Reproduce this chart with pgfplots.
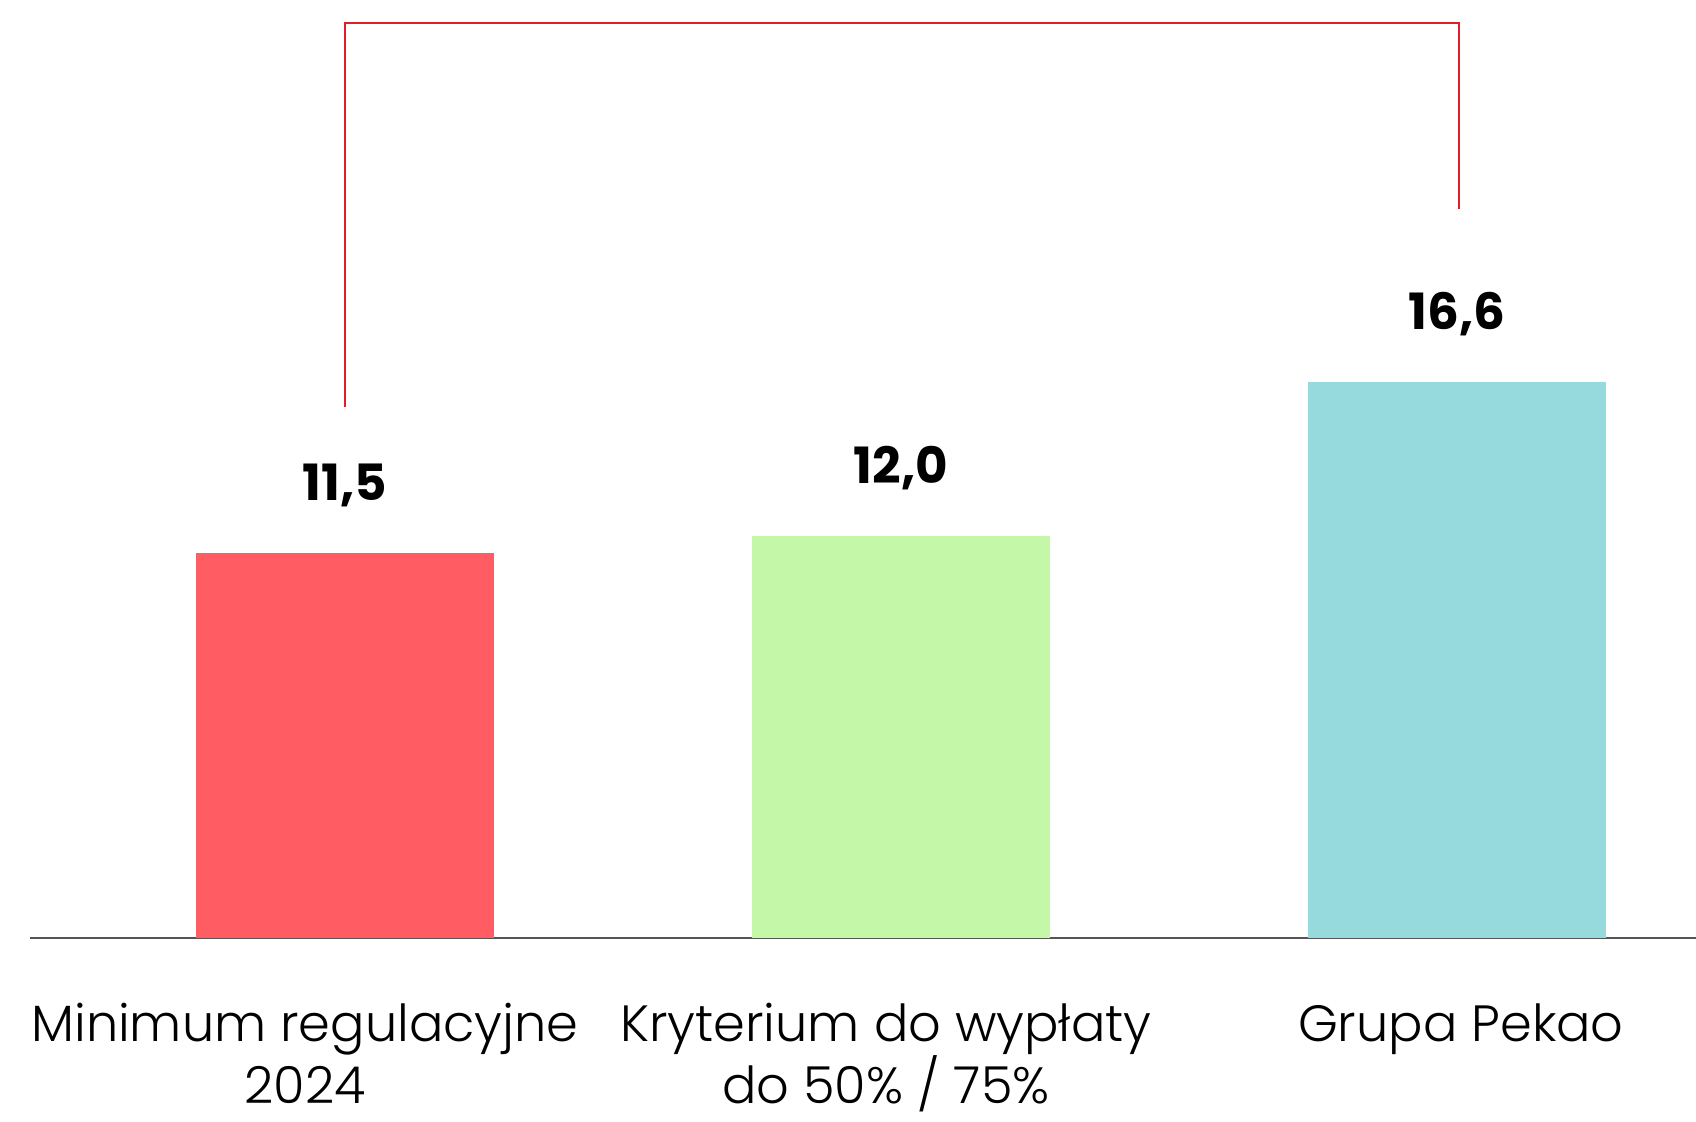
\documentclass[border=0pt]{standalone}
\usepackage{pgfplots}
\pgfplotsset{compat=1.18}
\usepackage{fontspec}
\setmainfont{Poppins}
\newfontfamily\lightfont{Poppins Light}
\definecolor{barred}{HTML}{FF5C64}
\definecolor{bargreen}{HTML}{C5F7A9}
\definecolor{barcyan}{HTML}{96DADE}
\definecolor{brred}{HTML}{E01E2A}
\definecolor{axgray}{HTML}{555555}
\pgfplotsset{
  valbar/.style={ybar, bar width=149bp, bar shift=0pt, draw=none,
    nodes near coords={\pgfmathprintnumber[fixed,fixed zerofill,precision=1,use comma,assume math mode=true]{\pgfplotspointmeta}},
    every node near coord/.append style={font=\bfseries\fontsize{25bp}{30bp}\selectfont, text=black, anchor=base, yshift=26bp, inner sep=0pt}},
}
\begin{document}
\begin{tikzpicture}
\begin{axis}[
  scale only axis, width=833bp, height=469bp,
  xmin=-0.5665, xmax=2.4299, ymin=0, ymax=28,
  axis x line=bottom, axis y line=none,
  x axis line style={-, draw=axgray, line width=1.2bp},
  xtick={-0.072,0.973,2.007},
  xticklabels={{Minimum regulacyjne\\2024},{Kryterium do wypłaty\\do 50\% / 75\%},{Grupa Pekao}},
  xticklabel style={align=center, font=\lightfont\fontsize{25.5bp}{31bp}\selectfont, anchor=north, inner sep=0pt, text depth=0pt, yshift=-32.5bp, text=black},
  major tick length=0pt, ytick=\empty,
  clip=false,
]
\addplot[valbar, fill=barred] coordinates {(0,11.5)};
\addplot[valbar, fill=bargreen] coordinates {(1,12.0)};
\addplot[valbar, fill=barcyan] coordinates {(2,16.6)};
\addplot[sharp plot, mark=none, draw=brred, line width=1.25bp, line join=miter] coordinates {(0,15.85) (0,27.31) (2.004,27.31) (2.004,21.76)};
\coordinate (bl) at (rel axis cs:0,0);
\coordinate (tr) at (rel axis cs:1,1);
\end{axis}
\pgfresetboundingbox
\path ([xshift=-15bp,yshift=-92bp]bl) rectangle (tr);
\end{tikzpicture}
\end{document}
